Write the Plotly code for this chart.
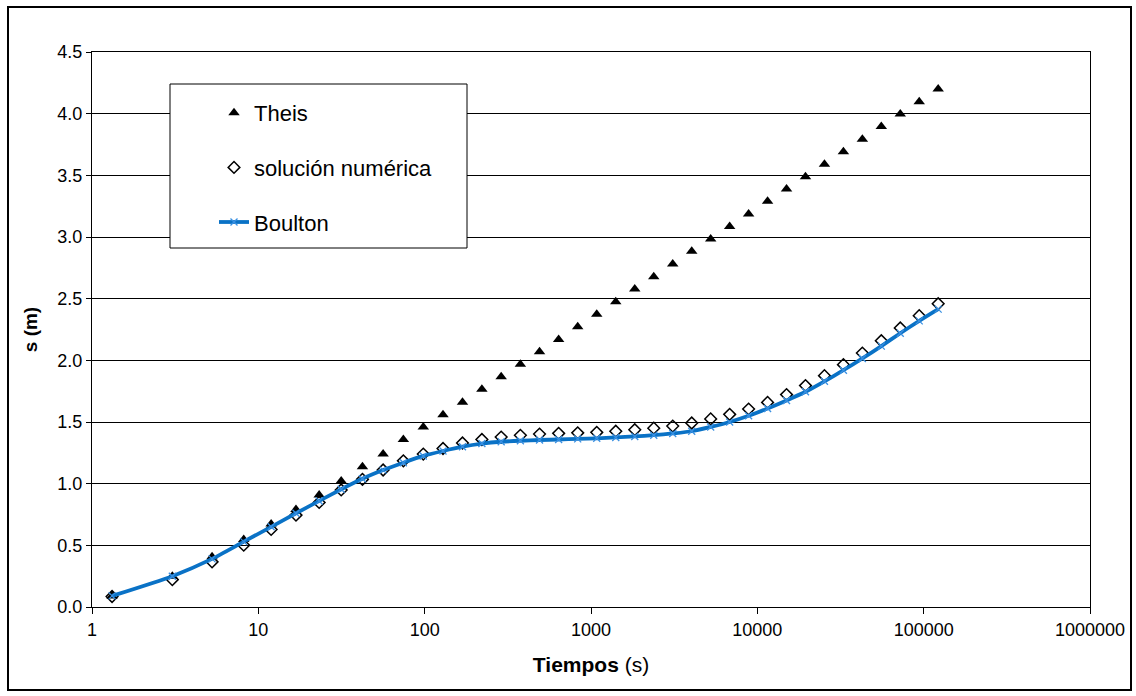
import plotly.graph_objects as go

# ---------------- data ----------------
tiempos = [1.32, 3.04, 5.27, 8.17, 11.94, 16.84, 23.21, 31.49, 42.26, 56.26,
           74.46, 98.11, 128.9, 168.8, 220.8, 288.4, 376.2, 490.4, 638.9, 831.8,
           1082.7, 1408.8, 1832.8, 2383.9, 3100.4, 4031.9, 5242.6, 6817, 8863, 11524,
           14982, 19478, 25322, 32921, 42798, 55638, 72330, 94032, 122245]

theis = [0.089, 0.249, 0.407, 0.547, 0.672, 0.791, 0.908, 1.022, 1.138, 1.241,
         1.359, 1.460, 1.559, 1.661, 1.766, 1.866, 1.968, 2.070, 2.169, 2.272,
         2.374, 2.476, 2.578, 2.678, 2.781, 2.884, 2.984, 3.086, 3.186, 3.289,
         3.389, 3.489, 3.589, 3.692, 3.792, 3.895, 3.997, 4.097, 4.200]

numerica = [0.085, 0.222, 0.366, 0.501, 0.629, 0.745, 0.848, 0.949, 1.035, 1.111,
            1.185, 1.240, 1.285, 1.330, 1.358, 1.378, 1.392, 1.402, 1.408, 1.412,
            1.416, 1.425, 1.437, 1.450, 1.467, 1.492, 1.525, 1.562, 1.605, 1.659,
            1.722, 1.795, 1.876, 1.965, 2.059, 2.159, 2.262, 2.362, 2.459]

boulton = [0.090, 0.250, 0.390, 0.530, 0.650, 0.760, 0.860, 0.955, 1.040, 1.110,
           1.170, 1.225, 1.265, 1.300, 1.325, 1.340, 1.348, 1.354, 1.358, 1.363,
           1.368, 1.375, 1.383, 1.393, 1.407, 1.425, 1.460, 1.500, 1.550, 1.610,
           1.675, 1.745, 1.830, 1.920, 2.015, 2.115, 2.220, 2.320, 2.415]

x_tickvals = [1, 10, 100, 1000, 10000, 100000, 1000000]
x_ticktext = ["1", "10", "100", "1000", "10000", "100000", "1000000"]
y_tickvals = [0.0, 0.5, 1.0, 1.5, 2.0, 2.5, 3.0, 3.5, 4.0, 4.5]

# ---------------- figure ----------------
FONT = "Liberation Sans, Arial, sans-serif"

fig = go.Figure()

fig.add_trace(go.Scatter(
    x=tiempos, y=theis, name="Theis", mode="markers", legendgroup="a",
    marker=dict(symbol="triangle-up", size=10, color="black"),
))
fig.add_trace(go.Scatter(
    x=tiempos, y=numerica, name="solución numérica", mode="markers", legendgroup="b",
    marker=dict(symbol="diamond-open", size=9, color="black",
                line=dict(width=1.5, color="black")),
))
fig.add_trace(go.Scatter(
    x=tiempos, y=boulton, name="Boulton", mode="lines+markers", legendgroup="c",
    line=dict(color="#0A72C6", width=3.8, shape="spline", smoothing=0.6),
    marker=dict(symbol="x-thin", size=7, color="#3A90E2",
                line=dict(width=1.3, color="#3A90E2")),
))

W, H = 1136, 696
L, R, T, B = 92, 1090, 52, 607  # plot-area pixel edges
pw, ph = R - L, B - T

def px(xp):
    return (xp - L) / pw

def py(yp):
    return (B - yp) / ph

fig.update_layout(
    width=W, height=H,
    margin=dict(l=L, r=W - R, t=T, b=H - B),
    paper_bgcolor="white", plot_bgcolor="white",
    font=dict(family=FONT, color="black", size=18),
    showlegend=True,
    legend=dict(
        x=px(214), y=py(92), xanchor="left", yanchor="top",
        bgcolor="rgba(0,0,0,0)", borderwidth=0,
        font=dict(family=FONT, size=22, color="black"),
        traceorder="grouped", tracegroupgap=23,
    ),
    xaxis=dict(
        type="log", range=[0, 6],
        tickvals=x_tickvals, ticktext=x_ticktext,
        showgrid=False, zeroline=False,
        showline=True, linecolor="black", linewidth=1, mirror=True,
        ticks="outside", ticklen=6, tickcolor="black",
        tickfont=dict(family=FONT, size=18, color="black"),
        title=dict(text="<b>Tiempos</b> (s)", font=dict(family=FONT, size=21, color="black"),
                   standoff=18),
    ),
    yaxis=dict(
        range=[0, 4.5], tickvals=y_tickvals, tickformat=".1f",
        showgrid=True, gridcolor="black", gridwidth=1, zeroline=False,
        showline=True, linecolor="black", linewidth=1, mirror=True,
        ticks="outside", ticklen=5, tickcolor="black",
        tickfont=dict(family=FONT, size=18, color="black"),
        title=dict(text="<b>s (m)</b>", font=dict(family=FONT, size=19, color="black"),
                   standoff=14),
    ),
    shapes=[
        # legend box
        dict(type="rect", xref="paper", yref="paper",
             x0=px(170), x1=px(467), y0=py(248), y1=py(84),
             fillcolor="white", line=dict(color="black", width=1), layer="above"),
        # outer chart border
        dict(type="rect", xref="paper", yref="paper",
             x0=px(8), x1=px(1131), y0=py(690), y1=py(7),
             fillcolor="rgba(0,0,0,0)", line=dict(color="black", width=2), layer="above"),
    ],
)

fig.write_html("out.html")
